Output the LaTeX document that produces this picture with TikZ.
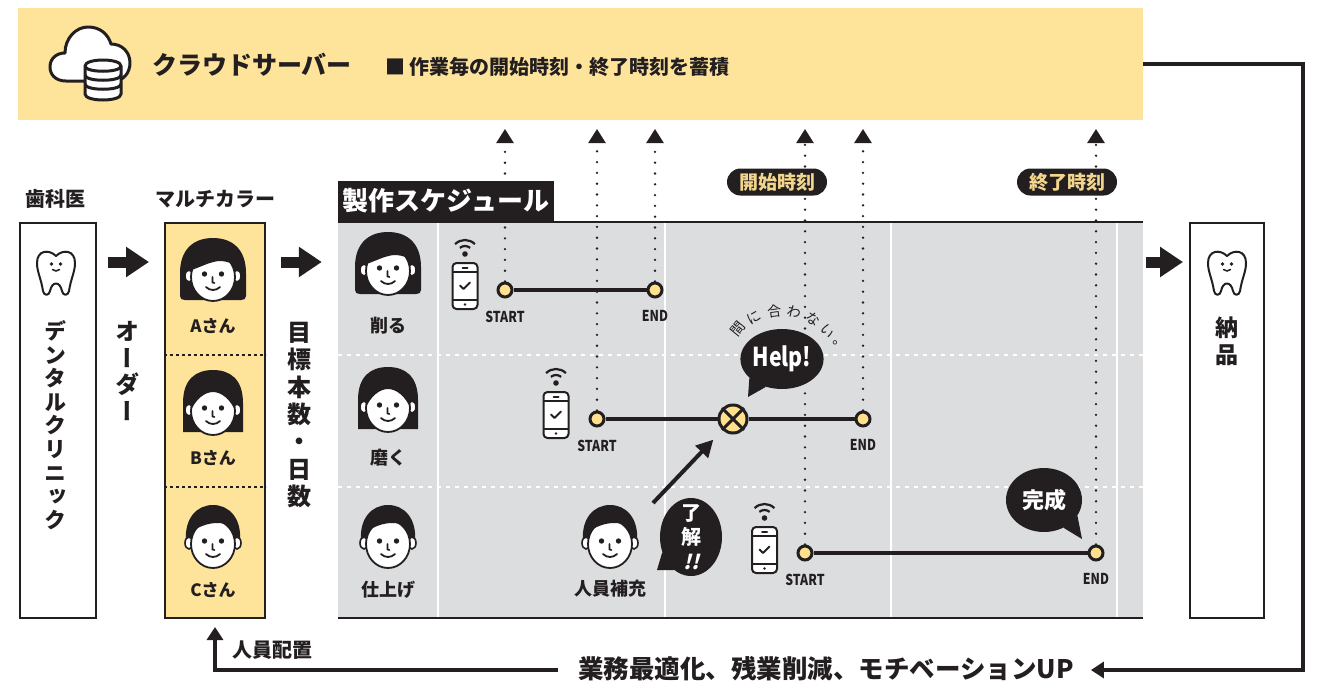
\documentclass[tikz,border=0pt]{standalone}
\usepackage{fontspec}
\setmainfont{Noto Sans CJK JP}
\newfontfamily\jpvert{Noto Sans CJK JP}[RawFeature={+vert}]
\newfontfamily\jpcond{Noto Sans CJK JP}[FakeStretch=0.82]
\newfontfamily\jpslant{Noto Sans CJK JP}[FakeSlant=0.25]
\usetikzlibrary{positioning,shapes.geometric,arrows.meta}

\definecolor{ink}{HTML}{231F20}
\definecolor{bandyellow}{HTML}{FEE39B}
\definecolor{dotyellow}{HTML}{FFE08C}
\definecolor{panelgray}{HTML}{DCDDDF}
\definecolor{pilltext}{HTML}{F3D68D}

% ears, face, bangs (#1 = hairline region) and features
\newcommand\facebase[1]{%
  \draw[ink, line width=1.6pt, fill=white] (-24,1) ellipse[x radius=4, y radius=6];
  \draw[ink, line width=1.6pt, fill=white] (24,1) ellipse[x radius=4, y radius=6];
  \fill[white] (0,0) ellipse[x radius=22, y radius=24];
  \begin{scope}
    \clip (0,0) ellipse[x radius=22, y radius=24];
    \fill[ink] #1;
  \end{scope}
  \draw[ink, line width=1.8pt] (0,0) ellipse[x radius=22, y radius=24];
  \fill[ink] (-8.5,3) circle[radius=2.7] (8.5,3) circle[radius=2.7];
  \draw[ink, line width=1.6pt, line cap=round] (-0.5,0) -- (-0.5,-5.5) -- (1.5,-6);
  \draw[ink, line width=1.8pt, line cap=round] (-7,-10) .. controls (-3,-14) and (3,-14) .. (7,-10);
}

\tikzset{
  pics/bob/.style={code={\begin{scope}[yscale=-1]
    \fill[ink] (-33,-19) -- (-33,4) .. controls (-33,28) and (-19,39) .. (0,39)
      .. controls (19,39) and (33,28) .. (33,4) -- (33,-19)
      .. controls (33,-22) and (31,-23) .. (28,-23) -- (-28,-23)
      .. controls (-31,-23) and (-33,-22) .. (-33,-19) -- cycle;
    \facebase{(-27,5) .. controls (-12,10) and (-4,15) .. (6,16) .. controls (16,16) and (24,12) .. (27,5) -- (27,30) -- (-27,30) -- cycle}
  \end{scope}}},
  pics/long/.style={code={\begin{scope}[yscale=-1]
    \fill[ink] (-30,-21) -- (-30,8) .. controls (-30,32) and (-17,41) .. (0,41)
      .. controls (17,41) and (30,32) .. (30,8) -- (30,-21) -- cycle;
    \facebase{(-23,-2) .. controls (-18,12) and (-8,19) .. (0,19) .. controls (8,19) and (18,12) .. (23,-2) -- (23,30) -- (-23,30) -- cycle}
  \end{scope}}},
  pics/short/.style={code={\begin{scope}[yscale=-1]
    \fill[ink] (-27,2) .. controls (-29,26) and (-16,39) .. (0,39)
      .. controls (16,39) and (29,26) .. (27,2) -- cycle;
    \facebase{(-26,9) .. controls (-15,18) and (-4,21) .. (4,21) .. controls (14,21) and (22,17) .. (26,12) -- (26,30) -- (-26,30) -- cycle}
  \end{scope}}},
  pics/tooth/.style={code={\begin{scope}[yscale=-1]
    \draw[ink, line width=2pt, fill=white, line join=round] (0,16)
      .. controls (-7,23) and (-19,22) .. (-19,9) .. controls (-19,0) and (-15,-6) .. (-13,-19)
      .. controls (-12,-24) and (-7,-24) .. (-6,-19) .. controls (-4,-9) and (4,-9) .. (6,-19)
      .. controls (7,-24) and (12,-24) .. (13,-19) .. controls (15,-6) and (19,0) .. (19,9)
      .. controls (19,22) and (7,23) .. (0,16) -- cycle;
    \fill[ink] (-4.5,8) circle[radius=1.8] (4.5,8) circle[radius=1.8];
    \draw[ink, line width=1.5pt, line cap=round] (-3.5,2.5) .. controls (-1.5,0.5) and (1.5,0.5) .. (3.5,2.5);
  \end{scope}}},
  pics/phone/.style={code={\begin{scope}[yscale=-1]
    \draw[ink, line width=2pt, fill=white, rounded corners=4pt] (-12.5,-23) rectangle (12.5,23);
    \draw[ink, line width=1.6pt] (-12.5,14) -- (12.5,14) (-12.5,-14) -- (12.5,-14);
    \draw[ink, line width=2pt, line cap=round] (-2.5,18.5) -- (2.5,18.5);
    \fill[ink] (0,-18.5) circle[radius=1.4];
    \draw[ink, line width=2pt, line cap=round, line join=round] (-5,0.5) -- (-1.5,-3) -- (5,3.5);
    % wifi
    \fill[ink] (0,32) circle[radius=2.8];
    \draw[ink, line width=2.2pt] (0,32) ++(50:8) arc[start angle=50, end angle=130, radius=8];
    \draw[ink, line width=2.2pt] (0,32) ++(45:14) arc[start angle=45, end angle=135, radius=14];
  \end{scope}}},
  pics/cloudserver/.style={code={\begin{scope}[yscale=-1]
    \draw[ink, line width=3pt, fill=white, line join=round] (-24,-18)
      .. controls (-34,-18) and (-40,-12) .. (-40,-4) .. controls (-40,5) and (-33,10) .. (-25,10)
      .. controls (-25,25) and (-14,36) .. (-2,36) .. controls (10,36) and (18,29) .. (21,19)
      .. controls (32,19) and (40,11) .. (40,0) .. controls (40,-10) and (33,-18) .. (24,-18) -- cycle;
    % database
    \draw[ink, line width=3pt, fill=white, line join=round] (-5,-3) -- (-5,-31)
      .. controls (-5,-39) and (31,-39) .. (31,-31) -- (31,-3)
      .. controls (31,5) and (-5,5) .. (-5,-3) -- cycle;
    \draw[ink, line width=3pt] (-5,-3) .. controls (-5,-10) and (31,-10) .. (31,-3);
    \draw[ink, line width=3pt] (-5,-12) .. controls (-5,-19) and (31,-19) .. (31,-12);
    \draw[ink, line width=3pt] (-5,-21) .. controls (-5,-28) and (31,-28) .. (31,-21);
  \end{scope}}},
}

\begin{document}
\begin{tikzpicture}[x=1pt, y=-1pt,
    box/.style={draw=ink, line width=2pt, inner sep=0, minimum height=395pt},
    head/.style={font=\bfseries\fontsize{20}{22}\selectfont, text=ink, inner sep=0},
    vtext/.style={align=center, inner sep=0, text=ink},
    who/.style={font=\bfseries\fontsize{17}{19}\selectfont, text=ink, inner sep=0},
    bigarrow/.style={draw=ink, line width=11pt, -{Triangle[length=23pt,width=29pt]}},
    divider/.style={draw=ink, line width=1.2pt, dash pattern=on 2.5pt off 3.5pt},
    grid/.style={draw=white, line width=1.5pt},
    gridsep/.style={draw=white, line width=1.5pt, dash pattern=on 4pt off 5pt},
    edge/.style={draw=ink, line width=2pt},
    guide/.style={draw=ink, line width=2.6pt, line cap=round, dash pattern=on 0pt off 10.8pt,
      -{Triangle[length=14pt,width=17pt]}},
    track/.style={draw=ink, line width=3.5pt},
    dot/.style={circle, draw=ink, fill=dotyellow, line width=3pt, minimum size=14pt, inner sep=0},
    tag/.style={font=\jpcond\bfseries\fontsize{15}{15}\selectfont, text=ink, inner sep=0},
    pill/.style={fill=ink, text=pilltext, rounded corners=13.5pt, minimum width=100pt,
      minimum height=27pt, inner sep=0, font=\bfseries\fontsize{19}{19}\selectfont},
    bubble/.style={ellipse, fill=ink, text=white, inner sep=0},
    late/.style={font=\fontsize{14}{14}\selectfont, text=ink, inner sep=0},
    flow/.style={draw=ink, line width=4pt, -{Triangle[length=13pt,width=16pt]}},
    pointer/.style={draw=ink, line width=4pt, -{Triangle[length=17pt,width=17pt]}}]
  \useasboundingbox (0,0) rectangle (1318,681);

  % cloud server band
  \node[fill=bandyellow, minimum width=1125pt, minimum height=112pt, inner sep=0] (band) at (580.5,64) {};
  \pic at (90,63) {cloudserver};
  \node[font=\bfseries\fontsize{25}{27}\selectfont, text=ink, anchor=west, inner sep=0] (server) at (152,65) {クラウドサーバー};
  \node[font=\bfseries\fontsize{20}{22}\selectfont, text=ink, anchor=west, inner sep=0] (storage) at (385,67) {■ 作業毎の開始時刻・終了時刻を蓄積};

  % dentist
  \node[head] (dentisthead) at (55,199) {歯科医};
  \node[box, fill=white, minimum width=76pt] (dentist) at (58,420.5) {};
  \pic at (56,272) {tooth};
  \node[vtext, font=\jpvert\bfseries\fontsize{22}{23.6}\selectfont] (clinic) at (56,425) {デ\\ン\\タ\\ル\\ク\\リ\\ニ\\ッ\\ク};
  \node[vtext, font=\jpvert\bfseries\fontsize{24}{26.5}\selectfont] (order) at (127,371) {オ\\ー\\ダ\\ー};

  % staff
  \coordinate (rowAB) at (0,355);
  \coordinate (rowBC) at (0,487);
  \node[head] (multihead) at (215,199) {マルチカラー};
  \node[box, fill=bandyellow, minimum width=100pt] (multi) at (215,420.5) {};
  \draw[divider] (multi.west |- rowAB) -- (multi.east |- rowAB);
  \draw[divider] (multi.west |- rowBC) -- (multi.east |- rowBC);
  \pic at (213,277) {bob};
  \node[who] (staffA) at (213,326) {Aさん};
  \pic at (213,411) {long};
  \node[who] (staffB) at (213,458) {Bさん};
  \pic at (213,544) {short};
  \node[who] (staffC) at (213,590) {Cさん};
  \node[vtext, font=\jpvert\bfseries\fontsize{24}{27.3}\selectfont] (target) at (299,415) {目\\標\\本\\数\\・\\日\\数};

  % schedule panel
  \node[fill=panelgray, minimum width=805pt, minimum height=396pt, inner sep=0] (panel) at (740.5,420) {};
  \foreach \gx in {438,665,891,1117}
    \draw[grid] (\gx,222) -- (\gx,618);
  \draw[gridsep] (panel.west |- rowAB) -- (panel.east |- rowAB);
  \draw[gridsep] (panel.west |- rowBC) -- (panel.east |- rowBC);
  \draw[edge] (panel.north west) -- (panel.north east);
  \draw[edge] (panel.south west) -- (panel.south east);
  \node[fill=ink, text=white, anchor=south west, minimum width=216pt, minimum height=41pt, inner sep=0,
    font=\bfseries\fontsize{26}{28}\selectfont] (tab) at (panel.north west) {製作スケジュール};

  % delivery
  \node[box, fill=white, minimum width=74pt] (delivery) at (1227,420.5) {};
  \pic at (1227,272) {tooth};
  \node[vtext, font=\jpvert\bfseries\fontsize{23}{27}\selectfont] (deliver) at (1227,341.5) {納\\品};

  % hand-over arrows
  \coordinate (arrowrow) at (0,262);
  \draw[bigarrow, shorten <=11pt, shorten >=15pt] (dentist.east |- arrowrow) -- (multi.west |- arrowrow);
  \draw[bigarrow, shorten <=15pt, shorten >=16pt] (multi.east |- arrowrow) -- (panel.west |- arrowrow);
  \draw[bigarrow, shorten <=3pt, shorten >=6pt] (panel.east |- arrowrow) -- (delivery.west |- arrowrow);

  % workers
  \pic at (388,271) {bob};
  \node[who, font=\bfseries\fontsize{18}{20}\selectfont] (cut) at (388,326) {削る};
  \pic at (388,408) {long};
  \node[who, font=\bfseries\fontsize{18}{20}\selectfont] (polish) at (388,458) {磨く};
  \pic at (388,544) {short};
  \node[who, font=\bfseries\fontsize{18}{20}\selectfont] (finish) at (388,590) {仕上げ};
  \pic at (610,544) {short};
  \node[who, font=\bfseries\fontsize{18}{20}\selectfont] (recruit) at (610,589) {人員補充};

  \pic at (465,286) {phone};
  \pic at (556,415) {phone};
  \pic at (764.5,550) {phone};

  % timelines
  \node[dot] (s1) at (505,290) {};
  \node[dot] (e1) at (655,290) {};
  \node[dot] (s2) at (597,419) {};
  \node[dot, minimum size=28pt] (x2) at (733,419) {};
  \node[dot] (e2) at (863,419) {};
  \node[dot] (s3) at (805,553) {};
  \node[dot] (e3) at (1096,553) {};

  \coordinate (tiprow) at (0,129);
  \foreach \n in {s1,e1,s2,e2,s3,e3}
    \draw[guide] (\n.north) -- (\n.north |- tiprow);

  \draw[track] (s1) -- (e1);
  \draw[track] (s2) -- (x2) -- (e2);
  \draw[track] (s3) -- (e3);
  \draw[ink, line width=3pt] (x2.45) -- (x2.225) (x2.135) -- (x2.315);

  \node[tag, below=12pt of s1] (s1lab) {START};
  \node[tag, below=12pt of e1] (e1lab) {END};
  \node[tag, below=12pt of s2] (s2lab) {START};
  \node[tag, below=12pt of e2] (e2lab) {END};
  \node[tag, below=12pt of s3] (s3lab) {START};
  \node[tag, below=12pt of e3] (e3lab) {END};

  \node[pill] (startpill) at (777,182) {開始時刻};
  \node[pill] (endpill) at (1067,182) {終了時刻};

  % speech bubbles
  \node[bubble, minimum width=76pt, minimum height=60pt, font=\jpcond\bfseries\fontsize{26}{26}\selectfont] (help) at (782,359) {Help!};
  \coordinate (helptip) at (748,397);
  \fill[ink] (help.210) -- (helptip) -- (help.240) -- cycle;
  \foreach \ch/\ang [count=\k] in {間/141,に/120,合/98,わ/77,な/56,い/35,。/14}
    \node[late, rotate=\ang-90] (late\k) at ({782+56*cos(\ang)},{359-48*sin(\ang)}) {\ch};

  \node[bubble, minimum width=62pt, minimum height=78pt] (gotit) at (691,537) {};
  \coordinate (gotittip) at (657,570);
  \fill[ink] (gotit.208) -- (gotittip) -- (gotit.243) -- cycle;
  \node[align=center, text=white, inner sep=0, font=\bfseries\fontsize{20}{24.5}\selectfont] (gotittext) at (gotit) {了\\解\\{\jpslant !!}};

  \node[bubble, minimum width=76pt, minimum height=64pt, font=\bfseries\fontsize{22}{22}\selectfont] (done) at (1044,500) {完成};
  \coordinate (donetip) at (1082,539);
  \fill[ink] (done.305) -- (donetip) -- (done.335) -- cycle;

  \coordinate (helpfrom) at (653,503);
  \draw[pointer, shorten >=13pt] (helpfrom) -- (x2);

  % feedback loop
  \coordinate (loopcorner) at (1303,670);
  \node[font=\bfseries\fontsize{25.5}{27}\selectfont, text=ink, inner sep=0] (benefit) at (826,669) {業務最適化、残業削減、モチベーションUP};
  \draw[flow, shorten >=17pt] (band.east) -| (loopcorner) -- (benefit.east |- loopcorner);
  \draw[flow, shorten <=20pt, shorten >=8pt] (benefit.west |- loopcorner) -| (multi.south);
  \node[head] (assign) at (272,650) {人員配置};
\end{tikzpicture}
\end{document}
